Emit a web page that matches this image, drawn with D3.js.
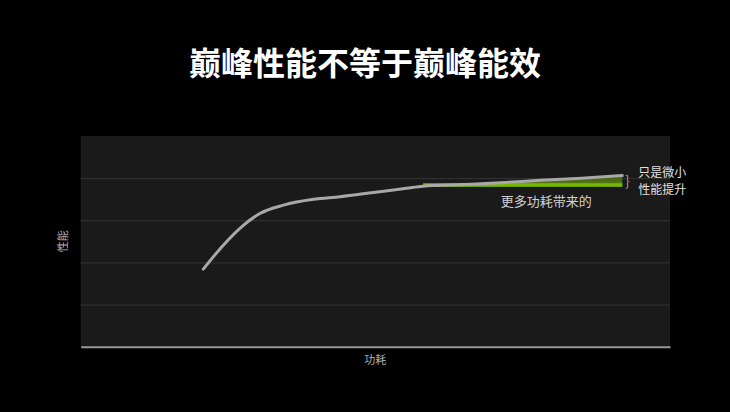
<!DOCTYPE html>
<html>
<head>
<meta charset="utf-8">
<script src="https://cdn.jsdelivr.net/npm/d3@7"></script>
<style>
  html, body { margin: 0; padding: 0; background: #000; }
  svg { display: block; font-family: "Noto Sans CJK SC", "Noto Sans", sans-serif; }
</style>
</head>
<body>
<svg width="730" height="412"></svg>
<script>
// power (x) vs performance (y)
const power = [2.08, 2.42, 2.76, 3.04, 3.44, 3.95, 4.40, 4.97, 5.53, 5.81, 6.5, 7.12, 7.8, 8.5, 9.19];
const perf = [1.84, 2.41, 2.88, 3.16, 3.36, 3.50, 3.56, 3.66, 3.76, 3.81, 3.85, 3.89, 3.95, 4.00, 4.06];
const extraStart = 5.81;   // where the extra power starts
const extraBase = 3.80;    // performance level at that point
const gridTicks = [1, 2, 3, 4];

const title = '巅峰性能不等于巅峰能效';
const xLabel = '功耗';
const yLabel = '性能';
const bandLabel = '更多功耗带来的';
const gainLabel = ['只是微小', '性能提升'];

const svg = d3.select('svg');
const margin = {left: 80.7, right: 60, top: 136, bottom: 65.3};
const width = 730 - margin.left - margin.right;
const height = 412 - margin.top - margin.bottom;

const x = d3.scaleLinear().domain([0, 10]).range([0, width]);
const y = d3.scaleLinear().domain([0, 5]).range([height, 0]);

const data = power.map((p, i) => ({x: p, y: perf[i]}));
const extra = data.filter(d => d.x >= extraStart);

const defs = svg.append('defs');
const grad = defs.append('linearGradient')
    .attr('id', 'bandFill').attr('x1', 0).attr('y1', 0).attr('x2', 0).attr('y2', 1);
grad.append('stop').attr('offset', '0%').attr('stop-color', '#3f5a12');
grad.append('stop').attr('offset', '100%').attr('stop-color', '#5c8414');

svg.append('text')
    .attr('x', 365).attr('y', 75)
    .attr('text-anchor', 'middle')
    .attr('fill', '#fff')
    .attr('font-size', 32)
    .attr('font-weight', 'bold')
    .text(title);

const g = svg.append('g').attr('transform', `translate(${margin.left},${margin.top})`);

g.append('rect')
    .attr('width', width).attr('height', height)
    .attr('fill', '#1a1a1a');

g.append('g')
    .call(d3.axisLeft(y).tickValues(gridTicks).tickSize(-width).tickFormat(''))
    .call(a => a.select('.domain').remove())
    .call(a => a.selectAll('line').attr('stroke', '#353535').attr('stroke-width', 1));

g.append('g')
    .attr('transform', `translate(0,${height})`)
    .call(d3.axisBottom(x).tickValues([]).tickSizeOuter(0))
    .call(a => a.select('.domain').attr('stroke', '#9a9a9a').attr('stroke-width', 2));

// extra power band
g.append('path')
    .datum(extra)
    .attr('fill', 'url(#bandFill)')
    .attr('d', d3.area().curve(d3.curveMonotoneX)
        .x(d => x(d.x)).y0(y(extraBase)).y1(d => y(d.y)));

g.append('line')
    .attr('x1', x(extraStart)).attr('x2', x(power[power.length - 1]))
    .attr('y1', y(extraBase) - 1.5).attr('y2', y(extraBase) - 1.5)
    .attr('stroke', '#76b900').attr('stroke-width', 3.5);

g.append('path')
    .datum(data)
    .attr('fill', 'none')
    .attr('stroke', '#a8a8a8')
    .attr('stroke-width', 3)
    .attr('stroke-linecap', 'round')
    .attr('d', d3.line().curve(d3.curveMonotoneX).x(d => x(d.x)).y(d => y(d.y)));

const last = data[data.length - 1];

g.append('text')
    .attr('x', x(7.9)).attr('y', y(extraBase) + 19)
    .attr('text-anchor', 'middle')
    .attr('fill', '#d0d0d0')
    .attr('font-size', 13)
    .text(bandLabel);

g.append('text')
    .attr('x', x(last.x) + 3).attr('y', (y(last.y) + y(extraBase)) / 2 + 5)
    .attr('fill', '#cfcfcf')
    .attr('font-size', 14)
    .attr('font-weight', 300)
    .text('}');

g.selectAll('.gain').data(gainLabel)
    .enter().append('text')
    .attr('class', 'gain')
    .attr('x', x(last.x) + 16)
    .attr('y', (d, i) => y(last.y) + 1 + i * 17.5)
    .attr('fill', '#e0e0e0')
    .attr('font-size', 12)
    .text(d => d);

svg.append('text')
    .attr('x', margin.left + x(5)).attr('y', 364)
    .attr('text-anchor', 'middle')
    .attr('fill', '#b0b0b0')
    .attr('font-size', 11)
    .text(xLabel);

svg.append('text')
    .attr('transform', `translate(67,${margin.top + y(2.5)}) rotate(-90)`)
    .attr('text-anchor', 'middle')
    .attr('fill', '#b0b0b0')
    .attr('font-size', 11)
    .text(yLabel);
</script>
</body>
</html>
